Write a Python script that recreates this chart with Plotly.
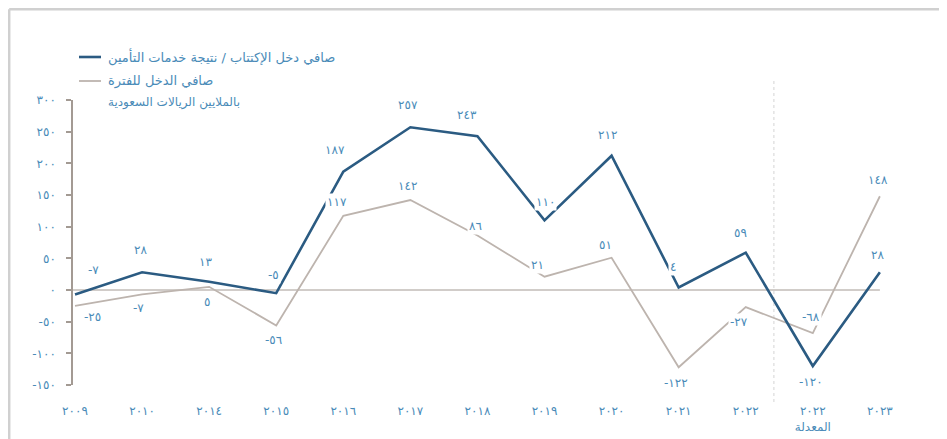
import plotly.graph_objects as go

# ---------------- data ----------------
years = ["2009", "2010", "2014", "2015", "2016", "2017", "2018", "2019",
         "2020", "2021", "2022", "2022", "2023"]
year_notes = ["", "", "", "", "", "", "", "", "", "", "", "المعدلة", ""]
underwriting = [-7, 28, 13, -5, 187, 257, 243, 110, 212, 4, 59, -120, 28]
net_income = [-25, -7, 5, -56, 117, 142, 86, 21, 51, -122, -27, -68, 148]
y_ticks = [-150, -100, -50, 0, 50, 100, 150, 200, 250, 300]
series_names = ["صافي دخل الإكتتاب / نتيجة خدمات التأمين", "صافي الدخل للفترة"]
unit_note = "بالملايين الريالات السعودية"

# ---------------- style ----------------
BLUE = "#2b5b82"
GRAY = "#bdb4ae"
TEXT = "#4a8bb8"
AXIS = "#a39a93"
FONT = "DejaVu Sans"

# label offsets in pixels (dx right, dy down)
uw_off = [(18, -24), (-2, -22), (-4, -20), (-3, -18), (-8, -22), (-2, -22), (-10, -21),
          (1, -18), (-4, -21), (-6, -20), (-5, -20), (-2, 16), (-2, -17)]
ni_off = [(17, 11), (-4, 14), (-2, 15), (-3, 15), (-6, -14), (-3, -14), (-2, -10),
          (-7, -12), (-6, -13), (-3, 16), (-7, 15), (-2, -16), (-2, -16)]

AR = str.maketrans("0123456789", "٠١٢٣٤٥٦٧٨٩")


def ar(v):
    return str(v).translate(AR) if v >= 0 else "-" + str(-v).translate(AR)


OFF = 8  # page body margin
W, H = 947 - OFF, 439 - OFF
ML, MT = 73 - OFF, 100 - OFF
MB = H - (385 - OFF)
MR = W - (900 - OFF)
PW, PH = W - ML - MR, H - MT - MB


def px(xpage):
    return (xpage - OFF - ML) / PW


def py(ypage):
    return (H - MB - (ypage - OFF)) / PH


xs = list(range(len(years)))
tick_text = [ar(int(y)) + ("<br>" + n if n else "") for y, n in zip(years, year_notes)]

fig = go.Figure()
fig.add_trace(go.Scatter(x=xs, y=net_income, mode="lines", name=series_names[1],
                         line=dict(color=GRAY, width=1.8), hoverinfo="skip"))
fig.add_trace(go.Scatter(x=xs, y=underwriting, mode="lines", name=series_names[0],
                         line=dict(color=BLUE, width=2.6), hoverinfo="skip"))

annotations = []
for series, offs in ((underwriting, uw_off), (net_income, ni_off)):
    for i, (v, (dx, dy)) in enumerate(zip(series, offs)):
        annotations.append(dict(x=xs[i], y=v, xref="x", yref="y", text=ar(v),
                                showarrow=False, xshift=dx, yshift=-dy, bgcolor="white",
                                font=dict(family=FONT, size=12, color=TEXT)))

# legend (manual)
annotations.append(dict(x=px(106), y=py(57), xref="paper", yref="paper", text=series_names[0],
                        showarrow=False, xanchor="left", yanchor="middle",
                        font=dict(family=FONT, size=13, color=TEXT)))
annotations.append(dict(x=px(106), y=py(81), xref="paper", yref="paper", text=series_names[1],
                        showarrow=False, xanchor="left", yanchor="middle",
                        font=dict(family=FONT, size=13, color=TEXT)))
annotations.append(dict(x=px(106), y=py(102), xref="paper", yref="paper", text=unit_note,
                        showarrow=False, xanchor="left", yanchor="middle",
                        font=dict(family=FONT, size=12, color=TEXT)))

shapes = [
    # frame (top and left)
    dict(type="line", xref="paper", yref="paper", x0=px(OFF + 1.2), x1=px(947), y0=py(OFF + 1.2), y1=py(OFF + 1.2),
         line=dict(color="#d0d0d0", width=2.5)),
    dict(type="line", xref="paper", yref="paper", x0=px(OFF + 1.2), x1=px(OFF + 1.2), y0=py(OFF + 1.2), y1=py(439),
         line=dict(color="#d0d0d0", width=2.5)),
    # legend lines
    dict(type="line", xref="paper", yref="paper", x0=px(79), x1=px(101), y0=py(57), y1=py(57),
         line=dict(color=BLUE, width=2.6)),
    dict(type="line", xref="paper", yref="paper", x0=px(79), x1=px(101), y0=py(81), y1=py(81),
         line=dict(color=GRAY, width=1.8)),
    # zero line
    dict(type="line", xref="x", yref="y", x0=-0.03, x1=xs[-1], y0=0, y1=0,
         line=dict(color=AXIS, width=1), layer="below"),
    # divider between reported and restated 2022
    dict(type="line", xref="x", yref="paper", x0=10.42, x1=10.42, y0=py(402), y1=py(78),
         line=dict(color="#d4d4d4", width=1, dash="dot"), layer="below"),
]

fig.update_layout(
    width=W, height=H,
    margin=dict(l=ML, r=MR, t=MT, b=MB, autoexpand=False),
    paper_bgcolor="white", plot_bgcolor="white",
    showlegend=False,
    annotations=annotations,
    shapes=shapes,
    font=dict(family=FONT, color=TEXT),
    xaxis=dict(range=[-0.03, 12.3], tickmode="array", tickvals=xs, ticktext=tick_text,
               automargin=False,
               showgrid=False, zeroline=False, showline=False, ticks="",
               ticklabelstandoff=17, tickfont=dict(family=FONT, size=12, color=TEXT)),
    yaxis=dict(range=[-150, 300], tickmode="array", tickvals=y_ticks,
               ticktext=[ar(t) for t in y_ticks], automargin=False,
               showgrid=False, zeroline=False, showline=True, linecolor=AXIS, linewidth=1.5,
               ticks="outside", ticklen=5, tickcolor=AXIS, tickwidth=1.5,
               ticklabelstandoff=8, tickfont=dict(family=FONT, size=12, color=TEXT)),
)

fig.write_html("out.html")
